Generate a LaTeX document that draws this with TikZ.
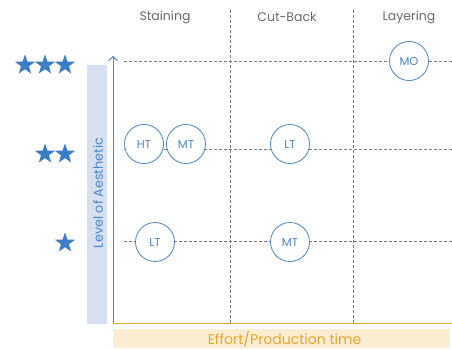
\documentclass[tikz,border=0pt]{standalone}
\usepackage{fontspec}
\setmainfont{Poppins}
\usepackage{xcolor}
\usetikzlibrary{shapes,arrows,positioning,calc,arrows.meta}

\definecolor{axisblue}{HTML}{4A86C8}
\definecolor{starblue}{HTML}{3C7EC6}
\definecolor{bandblue}{HTML}{D7E0F1}
\definecolor{axisorange}{HTML}{E5A62F}
\definecolor{bandorange}{HTML}{FAEDD2}
\definecolor{gridgrey}{HTML}{7A7A7A}

\tikzset{
  grid line/.style={gridgrey, densely dashed, line width=0.7pt},
  tech/.style={circle, draw=axisblue, fill=white, line width=0.8pt, minimum size=39pt, inner sep=0pt, text=axisblue, font=\fontsize{11.5}{12}\selectfont},
  header/.style={text=gridgrey!85!black, font=\fontsize{12.5}{14}\selectfont},
  rating/.style={star, star points=5, star point ratio=2.5, fill=starblue, minimum size=21pt, inner sep=0pt}
}

\begin{document}
\begin{tikzpicture}[x=1pt, y=1pt]
    \useasboundingbox (0,0) rectangle (452,349);

    % axis labels
    \fill[bandblue] (87,25) rectangle (107,284);
    \fill[bandorange] (113,1) rectangle (450,20);
    \node[rotate=90, text=axisblue, font=\fontsize{12.8}{14}\selectfont] (ylab) at (98,156) {Level of Aesthetic};
    \node[text=axisorange, font=\fontsize{14}{16}\selectfont] (xlab) at (284.5,9.5) {Effort/Production time};

    % columns
    \coordinate (c1top) at (230,339);
    \coordinate (c1bot) at (230,26);
    \coordinate (c2top) at (353,339);
    \coordinate (c2bot) at (353,26);
    \draw[grid line] (c1top) -- (c1bot);
    \draw[grid line] (c2top) -- (c2bot);
    \node[header] (staining) at (165,332) {Staining};
    \node[header] (cutback) at (287,332) {Cut-Back};
    \node[header] (layering) at (409,332) {Layering};

    % rows
    \coordinate (r3a) at (124,288);
    \coordinate (r3b) at (452,288);
    \coordinate (r2a) at (124,200);
    \coordinate (r2b) at (452,200);
    \coordinate (r1a) at (124,108);
    \coordinate (r1b) at (452,108);
    \draw[grid line] (r3a) -- (r3b);
    \draw[grid line] (r2a) -- (r2b);
    \draw[grid line] (r1a) -- (r1b);

    % axes
    \coordinate (origin) at (113,26);
    \coordinate (ytop) at (113,293);
    \coordinate (xend) at (452,26);
    \draw[axisorange, line width=1pt] (origin) -- (xend);
    \draw[axisblue, line width=1pt, -{Straight Barb[length=4pt, width=9pt]}] (origin) -- (ytop);

    % stars
    \node[rating] (s3a) at (25,284) {};
    \node[rating] (s3b) at (45,284) {};
    \node[rating] (s3c) at (65,284) {};
    \node[rating] (s2a) at (45,195) {};
    \node[rating] (s2b) at (65,195) {};
    \node[rating] (s1a) at (65,106) {};

    % techniques
    \node[tech] (mo) at (409,288) {MO};
    \node[tech] (ht) at (144,205) {HT};
    \node[tech] (mt2) at (186,205) {MT};
    \node[tech] (lt2) at (290,205) {LT};
    \node[tech] (lt1) at (155,107) {LT};
    \node[tech] (mt1) at (290,107) {MT};
\end{tikzpicture}
\end{document}
